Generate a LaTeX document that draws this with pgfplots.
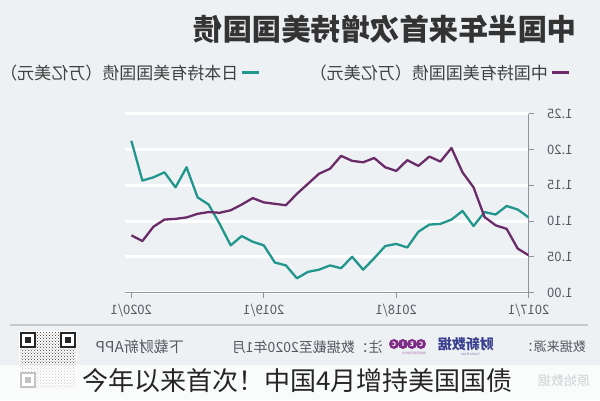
\documentclass[border=0pt]{standalone}
\usepackage{pgfplots}
\pgfplotsset{compat=1.18}
\usepackage{graphicx}
\usepackage{fontspec}
\setmainfont{Noto Sans CJK SC}
\usetikzlibrary{patterns}
\definecolor{bg}{HTML}{EEF1F4}
\definecolor{teal1}{HTML}{21968C}
\definecolor{purp}{HTML}{6A2C68}
\definecolor{axgrey}{HTML}{8E959C}
\definecolor{txtgrey}{HTML}{555A60}
\definecolor{cxblue}{HTML}{3B3F8F}
\definecolor{ceic}{HTML}{7E2D86}
\begin{document}
\begin{tikzpicture}[x=1pt,y=1pt]
\useasboundingbox (0,0) rectangle (600,400);
\fill[bg] (0,0) rectangle (600,400);
% title
\node[anchor=east, inner sep=0, text=black!80] at (577,371) {\reflectbox{\fontsize{29.5}{30}\selectfont\bfseries 中国半年来首次增持美国国债}};
\begin{axis}[
  at={(113,150)}, anchor=south west, scale only axis,
  width=404pt, height=179pt,
  xmin=-36.6, xmax=0, ymin=1.0, ymax=1.25,
  axis x line=bottom, axis y line=right,
  axis line style={axgrey, line width=1pt, -},
  xtick={-36,-24,-12,0},
  xticklabels={\reflectbox{2020/1},\reflectbox{2019/1},\reflectbox{2018/1},\reflectbox{2017/1}},
  ytick={1.00,1.05,1.10,1.15,1.20,1.25},
  yticklabel={\reflectbox{\pgfmathprintnumber[fixed,fixed zerofill,precision=2,assume math mode=true]{\tick}}},
  tick style={axgrey, line width=0.8pt}, tick align=outside, major tick length=5pt,
  ticklabel style={font=\fontsize{13}{13}\selectfont, text=txtgrey},
  yticklabel style={anchor=west, xshift=10pt},
  xticklabel style={yshift=-3pt},
  ymajorgrids, grid style={white, line width=3pt},
  legend style={at={(1.111,1.229)}, anchor=east, draw=none, fill=none,
    font=\fontsize{17}{17}\selectfont, text=black!75,
    /tikz/every even column/.append style={column sep=47pt}},
  legend columns=2, legend plot pos=right,
  legend image code/.code={\draw[line width=3.5pt] (0pt,0pt) -- (17pt,0pt);},
]
\addplot[teal1, line width=2.3pt, line join=round] coordinates {
(0,1.105) (-1,1.116) (-2,1.121) (-3,1.109) (-4,1.1125) (-5,1.093) (-6,1.114)
(-7,1.102) (-8,1.096) (-9,1.095) (-10,1.085) (-11,1.063) (-12,1.068) (-13,1.065)
(-14,1.048) (-15,1.032) (-16,1.050) (-17,1.034) (-18,1.038) (-19,1.032) (-20,1.029)
(-21,1.020) (-22,1.038) (-23,1.042) (-24,1.066) (-25,1.071) (-26,1.079) (-27,1.066)
(-28,1.096) (-29,1.123) (-30,1.133) (-31,1.175) (-32,1.147) (-33,1.168) (-34,1.161)
(-35,1.1565) (-36,1.212)};
\addlegendentry{\reflectbox{日本持有美国国债（万亿美元）}}
\addplot[purp, line width=2.3pt, line join=round] coordinates {
(0,1.052) (-1,1.0615) (-2,1.089) (-3,1.094) (-4,1.1055) (-5,1.147) (-6,1.168)
(-7,1.202) (-8,1.183) (-9,1.190) (-10,1.177) (-11,1.185) (-12,1.170) (-13,1.175)
(-14,1.188) (-15,1.182) (-16,1.184) (-17,1.191) (-18,1.173) (-19,1.166) (-20,1.152)
(-21,1.138) (-22,1.122) (-23,1.124) (-24,1.126) (-25,1.132) (-26,1.123) (-27,1.115)
(-28,1.1115) (-29,1.1125) (-30,1.110) (-31,1.105) (-32,1.103) (-33,1.102) (-34,1.092)
(-35,1.072) (-36,1.080)};
\addlegendentry{\reflectbox{中国持有美国国债（万亿美元）}}
\node[anchor=east, inner sep=0, xshift=-22pt, yshift=12pt, text=txtgrey, font=\fontsize{12}{12}\selectfont] at (axis cs:-36,1.212) {\reflectbox{1.21}};
\node[anchor=east, inner sep=0, xshift=-20pt, yshift=-2.5pt, text=txtgrey, font=\fontsize{12}{12}\selectfont] at (axis cs:-36,1.080) {\reflectbox{1.08}};
\end{axis}
% footer
\draw[black!22, line width=1.5pt] (10,75) -- (588,75);
\node[anchor=east, inner sep=0, text=txtgrey, font=\fontsize{13}{13}\selectfont] at (586,53) {\reflectbox{数据来源：}};
\node[anchor=east, inner sep=0, text=cxblue, font=\fontsize{14}{14}\selectfont\bfseries] at (494,56) {\reflectbox{财新数据}};
\node[anchor=east, inner sep=0, text=cxblue!70, font=\fontsize{3.5}{4}\selectfont] at (480,46) {\reflectbox{Caixin Data}};
\foreach \cx/\ch in {394/C,403/I,412/E,421/C}{
  \fill[ceic] (\cx,56) circle (5);
  \node[text=white, inner sep=0, font=\fontsize{6}{6}\selectfont\bfseries] at (\cx,56) {\reflectbox{\ch}};
}
\node[anchor=east, inner sep=0, text=ceic!60, font=\fontsize{3}{3}\selectfont] at (426,47) {\reflectbox{数据库服务提供方}};
\node[anchor=east, inner sep=0, text=txtgrey, font=\fontsize{14}{14}\selectfont] at (383,53) {\reflectbox{注：数据截至2020年1月}};
\node[anchor=east, inner sep=0, text=txtgrey, font=\fontsize{15}{15}\selectfont] at (184,53) {\reflectbox{下载财新APP}};
% QR code
\fill[white] (19,11) rectangle (77,69);
\fill[pattern=crosshatch dots, pattern color=black!80] (20,12) rectangle (76,68);
\foreach \qx/\qy in {20/52,60/52,20/12}{
  \fill[white] (\qx,\qy) rectangle ++(16,16);
  \draw[black!85, line width=2pt] (\qx+1,\qy+1) rectangle ++(14,14);
  \fill[black!85] (\qx+5,\qy+5) rectangle ++(6,6);
}
\node[anchor=east, inner sep=0, text=txtgrey, font=\fontsize{13}{13}\selectfont] at (590,19) {\reflectbox{原始数据}};
% caption band
\fill[white, opacity=0.72] (0,0) rectangle (600,35);
\node[anchor=west, inner sep=0, text=black!85, font=\fontsize{26}{26}\selectfont] at (82,19) {今年以来首次！中国4月增持美国国债};
\end{tikzpicture}
\end{document}
